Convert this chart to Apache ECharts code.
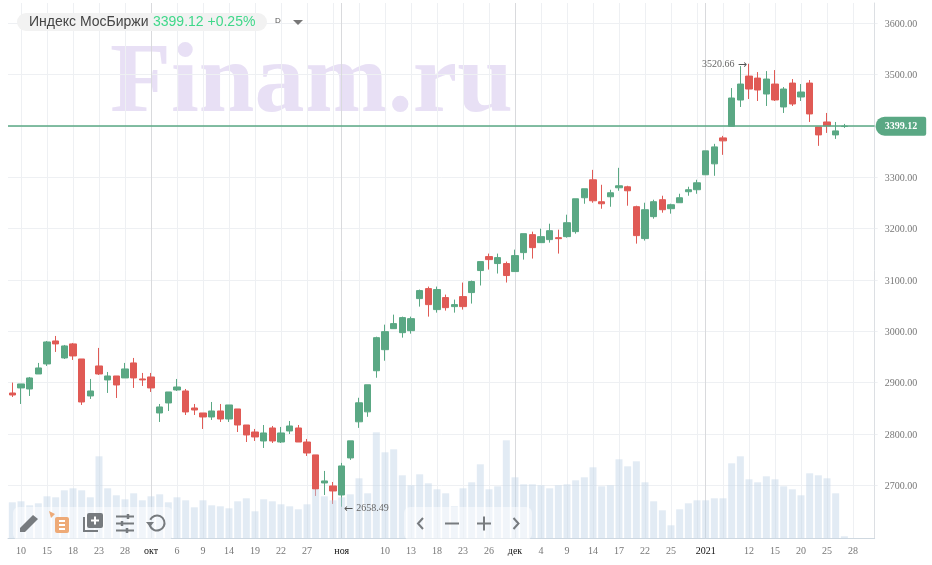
<!DOCTYPE html>
<html><head><meta charset="utf-8">
<style>html,body{margin:0;padding:0;background:#fff}#c{width:932px;height:565px}</style>
<script src="https://cdn.jsdelivr.net/npm/echarts@6/dist/echarts.min.js"></script>
</head><body><div id="c"></div>
<script>
const categories = ['2020-09-09','2020-09-10','2020-09-11','2020-09-14','2020-09-15','2020-09-16','2020-09-17','2020-09-18','2020-09-21','2020-09-22','2020-09-23','2020-09-24','2020-09-25','2020-09-28','2020-09-29','2020-09-30','2020-10-01','2020-10-02','2020-10-05','2020-10-06','2020-10-07','2020-10-08','2020-10-09','2020-10-12','2020-10-13','2020-10-14','2020-10-15','2020-10-16','2020-10-19','2020-10-20','2020-10-21','2020-10-22','2020-10-23','2020-10-26','2020-10-27','2020-10-28','2020-10-29','2020-10-30','2020-11-02','2020-11-03','2020-11-05','2020-11-06','2020-11-09','2020-11-10','2020-11-11','2020-11-12','2020-11-13','2020-11-16','2020-11-17','2020-11-18','2020-11-19','2020-11-20','2020-11-23','2020-11-24','2020-11-25','2020-11-26','2020-11-27','2020-11-30','2020-12-01','2020-12-02','2020-12-03','2020-12-04','2020-12-07','2020-12-08','2020-12-09','2020-12-10','2020-12-11','2020-12-14','2020-12-15','2020-12-16','2020-12-17','2020-12-18','2020-12-21','2020-12-22','2020-12-23','2020-12-24','2020-12-25','2020-12-28','2020-12-29','2020-12-30','2021-01-04','2021-01-05','2021-01-06','2021-01-08','2021-01-11','2021-01-12','2021-01-13','2021-01-14','2021-01-15','2021-01-18','2021-01-19','2021-01-20','2021-01-21','2021-01-22','2021-01-25','2021-01-26','2021-01-27','2021-01-28','2021-01-29','2021-02-01'];
const opens = [2879.9,2889.7,2887.7,2916.9,2936.4,2981.2,2948.1,2975.4,2946.1,2874.1,2932.5,2905.3,2913.0,2909.2,2938.4,2907.2,2911.1,2841.0,2860.5,2885.8,2883.8,2850.7,2841.0,2833.2,2844.9,2829.3,2848.8,2817.6,2804.0,2786.5,2811.8,2784.5,2806.0,2811.8,2784.5,2759.4,2704.8,2699.0,2681.4,2753.5,2823.8,2843.2,2923.2,2964.2,3005.1,2997.3,3001.2,3063.6,3083.1,3042.2,3065.6,3048.0,3067.5,3075.3,3118.2,3145.4,3131.8,3131.8,3116.2,3153.1,3188.1,3172.5,3178.4,3182.2,3184.2,3193.9,3259.9,3294.8,3252.1,3261.8,3279.3,3281.2,3242.5,3180.4,3223.1,3256.1,3238.6,3250.2,3271.6,3275.5,3304.6,3325.9,3376.4,3399.0,3450.1,3496.7,3492.8,3461.8,3481.2,3436.6,3483.1,3456.0,3483.1,3397.7,3407.4,3382.2,3398.5];
const closes = [2876.0,2897.5,2909.2,2928.6,2979.2,2975.4,2971.5,2952.0,2862.4,2883.8,2916.9,2913.0,2895.5,2926.7,2909.2,2905.3,2889.7,2852.7,2881.9,2891.6,2843.0,2846.8,2833.2,2844.9,2829.3,2856.6,2817.6,2798.2,2794.3,2802.1,2786.5,2802.1,2815.7,2784.5,2763.1,2693.1,2708.7,2689.2,2737.9,2786.7,2860.8,2895.9,2987.6,2999.3,3014.9,3026.6,3024.6,3079.2,3051.9,3081.2,3046.0,3051.9,3048.0,3096.8,3135.6,3139.5,3143.4,3108.5,3147.3,3190.0,3162.8,3184.2,3195.8,3180.3,3211.3,3257.9,3277.4,3254.0,3248.2,3269.6,3283.2,3273.5,3186.2,3236.6,3252.2,3236.6,3246.3,3259.9,3275.5,3289.0,3351.2,3358.9,3370.6,3454.0,3481.2,3471.5,3469.6,3490.9,3450.2,3471.5,3442.4,3465.7,3423.0,3382.2,3399.7,3390.0,3399.12];
const lows = [2872.1,2858.5,2874.1,2916.9,2932.5,2959.8,2946.1,2944.2,2856.6,2868.3,2915.0,2880.0,2870.2,2909.2,2889.7,2893.6,2881.9,2823.5,2844.9,2883.8,2837.1,2837.1,2809.9,2827.4,2823.5,2823.5,2804.0,2784.5,2786.5,2772.9,2782.6,2782.6,2800.1,2784.5,2757.3,2679.5,2681.4,2663.9,2658.49,2749.7,2812.0,2833.5,2909.6,2942.7,3005.1,2987.6,2995.4,3048.0,3028.5,3036.3,3040.2,3036.3,3042.2,3053.9,3089.1,3120.1,3112.4,3094.9,3116.2,3139.5,3141.5,3172.5,3172.5,3151.2,3182.2,3190.0,3248.2,3250.2,3238.5,3242.4,3273.5,3244.4,3170.6,3176.5,3219.2,3230.8,3228.9,3250.2,3263.8,3267.7,3304.6,3302.6,3343.4,3399.0,3436.6,3452.1,3448.2,3438.5,3448.2,3424.9,3438.5,3448.2,3407.4,3360.9,3386.1,3374.4,3395.8];
const highs = [2900.1,2897.5,2911.1,2938.4,2981.2,2990.9,2973.4,2977.3,2946.1,2907.2,2967.6,2920.8,2913.0,2938.4,2948.1,2918.9,2918.9,2858.5,2881.9,2907.2,2887.7,2858.5,2841.0,2862.4,2858.5,2856.6,2848.8,2817.6,2809.9,2817.6,2815.7,2813.8,2825.4,2817.6,2790.4,2759.4,2728.2,2706.7,2743.8,2786.7,2870.6,2895.9,2989.5,3012.9,3032.4,3028.5,3028.5,3081.2,3087.0,3087.0,3071.4,3061.7,3094.8,3098.7,3135.6,3151.2,3151.2,3135.6,3158.9,3190.0,3193.9,3199.7,3209.4,3197.8,3226.9,3257.9,3277.4,3314.2,3285.1,3275.4,3318.1,3283.2,3244.4,3250.2,3256.1,3263.8,3248.3,3267.7,3281.3,3294.9,3351.2,3364.8,3380.3,3473.4,3516.1,3520.66,3504.5,3506.4,3508.4,3475.4,3490.9,3481.2,3489.0,3397.7,3424.9,3407.4,3403.6];
const volumes = [36,37,33,35,42,41,48,50,48,41,82,50,43,39,45,38,42,44,36,41,38,31,38,33,32,30,37,40,27,39,37,34,32,29,34,49,42,38,41,44,60,45,106,86,89,63,53,64,55,49,45,32,50,56,74,49,52,98,61,54,54,53,50,53,54,58,61,71,52,53,79,72,77,56,37,28,13,29,35,38,38,40,40,75,82,59,56,62,59,52,49,43,65,63,60,45,2];
const tickLabels = {'2020-09-10':'10','2020-09-15':'15','2020-09-18':'18','2020-09-23':'23','2020-09-28':'28','2020-10-01':'окт','2020-10-06':'6','2020-10-09':'9','2020-10-14':'14','2020-10-19':'19','2020-10-22':'22','2020-10-27':'27','2020-11-02':'ноя','2020-11-10':'10','2020-11-13':'13','2020-11-18':'18','2020-11-23':'23','2020-11-26':'26','2020-12-01':'дек','2020-12-04':'4','2020-12-09':'9','2020-12-14':'14','2020-12-17':'17','2020-12-22':'22','2020-12-25':'25','2021-01-04':'2021','2021-01-12':'12','2021-01-15':'15','2021-01-20':'20','2021-01-25':'25','2021-01-28':'28'};
const monthStarts = ['2020-10-01','2020-11-02','2020-12-01','2021-01-04'];
const lastPrice = 3399.12;
const maxPoint = {date:'2021-01-12', price:3520.66};
const minPoint = {date:'2020-11-02', price:2658.49};

const GREEN='#5aa884', RED='#e05a55', GRID='#eef0f3', SERIF='"Liberation Serif",serif', SANS='"Liberation Sans",Arial,sans-serif', ICON='#777b7f';
const L=8, W=866.67;
const candles = opens.map((o,i)=>[o,closes[i],lows[i],highs[i]]);

function line(x1,y1,x2,y2,w,c){return {type:'line',z:50,shape:{x1,y1,x2,y2},style:{stroke:c||ICON,lineWidth:w}};}
const graphics = [
 {type:'text',z:-5,left:110,top:35,style:{text:'Finam.ru',font:'bold 100px '+SERIF,fill:'#e8e0f5'}},
 {type:'rect',z:40,shape:{x:17,y:13,width:250,height:18,r:9},style:{fill:'#f2f2f2'}},
 {type:'text',z:41,left:29,top:15,style:{text:'Индекс МосБиржи',font:'14px '+SANS,fill:'#444'}},
 {type:'text',z:41,left:153,top:15,style:{text:'3399.12 +0.25%',font:'14px '+SANS,fill:'#3fd88a'}},
 {type:'text',z:41,left:275,top:17,style:{text:'D',font:'8px '+SANS,fill:'#555'}},
 {type:'polygon',z:41,shape:{points:[[293,20],[303,20],[298,25]]},style:{fill:'#777'}},
 {type:'rect',z:45,shape:{x:13,y:507,width:160,height:33,r:6},style:{fill:'rgba(255,255,255,0.5)'}},
 {type:'rect',z:45,shape:{x:404,y:507,width:128,height:33,r:6},style:{fill:'rgba(255,255,255,0.5)'}},
 {type:'polygon',z:50,shape:{points:[[20,528],[33,515],[38,519],[25,532],[20,532]]},style:{fill:ICON}},
 {type:'polygon',z:50,shape:{points:[[49,511],[55,514],[51,518]]},style:{fill:'#eeaa77'}},
 {type:'rect',z:50,shape:{x:55,y:517,width:14,height:16,r:2},style:{fill:'#eeaa77'}},
 line(59,521,65,521,2,'#fff'),line(59,525,65,525,2,'#fff'),line(59,529,65,529,2,'#fff'),
 {type:'rect',z:50,shape:{x:87,y:513,width:16,height:15,r:2},style:{fill:ICON}},
 {type:'polyline',z:50,shape:{points:[[84,517],[84,531],[98,531]]},style:{stroke:ICON,lineWidth:2,fill:'none'}},
 line(91,520.5,99,520.5,2,'#fff'),line(95,516.5,95,524.5,2,'#fff'),
 line(116,516.5,134,516.5,2),line(116,523.5,134,523.5,2),line(116,530.5,134,530.5,2),
 line(128,514,128,519,2.5),line(122,521,122,526,2.5),line(127,528,127,533,2.5),
 {type:'arc',z:50,shape:{cx:157,cy:523,r:7.5,startAngle:-2.7,endAngle:2.9,clockwise:true},style:{stroke:ICON,lineWidth:2,fill:'none'}},
 {type:'polygon',z:50,shape:{points:[[146,522],[154,522],[150,527]]},style:{fill:ICON}},
 {type:'polyline',z:50,shape:{points:[[423,518],[418,523.5],[423,529]]},style:{stroke:ICON,lineWidth:2,fill:'none'}},
 line(445,523.5,459,523.5,2),line(477,523.5,491,523.5,2),line(484,516.5,484,530.5,2),
 {type:'polyline',z:50,shape:{points:[[513.5,518],[518.5,523.5],[513.5,529]]},style:{stroke:ICON,lineWidth:2,fill:'none'}}
];
const annoRich = {a:{fontFamily:'"DejaVu Sans",sans-serif',fontSize:11,color:'#555'},t:{fontFamily:SERIF,fontSize:10,color:'#666'}};

const chart = echarts.init(document.getElementById('c'),null,{renderer:'canvas'});
chart.setOption({
 animation:false,
 grid:[
  {left:L,width:W,top:23,height:513.8},
  {left:L,width:W,top:3,height:535.3}
 ],
 xAxis:[
  {type:'category',gridIndex:0,data:categories,show:false},
  {type:'category',gridIndex:1,data:categories,
   axisLine:{lineStyle:{color:'#cfd8e0'}},axisTick:{show:false},
   splitLine:{show:true,alignWithLabel:true,interval:(i)=>(i-1)%3===0,lineStyle:{color:GRID}},
   axisLabel:{interval:(i,v)=>v in tickLabels,hideOverlap:false,margin:8,
     fontFamily:SERIF,fontSize:10,color:'#777',
     formatter:(v)=>{const t=tickLabels[v]||'';return monthStarts.includes(v)?'{m|'+t+'}':t;},
     rich:{m:{fontFamily:SERIF,fontSize:10,color:'#111'}}}}
 ],
 yAxis:[
  {type:'value',gridIndex:0,position:'right',min:2600,max:3600,interval:100,
   axisLine:{show:false},axisTick:{show:true,length:3,lineStyle:{color:GRID}},
   splitLine:{show:true,showMinLine:false,lineStyle:{color:GRID}},
   axisLabel:{showMinLabel:false,margin:10,fontFamily:SERIF,fontSize:10,color:'#777',
     formatter:(v)=>'{v|'+v.toFixed(2)+'}',rich:{v:{fontFamily:SERIF,fontSize:10,color:'#777',padding:[2,0,0,0]}}}},
  {type:'value',gridIndex:1,position:'right',min:0,max:535.3,
   axisLine:{show:true,lineStyle:{color:'#dcdfe3'}},axisTick:{show:false},axisLabel:{show:false},splitLine:{show:false}}
 ],
 graphic:graphics,
 series:[
  {type:'line',name:'monthLines',xAxisIndex:1,yAxisIndex:1,data:[],z:1,showSymbol:false,
   markLine:{silent:true,symbol:'none',animation:false,z:1,label:{show:false},
    lineStyle:{color:'#d9dadd',width:1,type:'solid'},
    data:monthStarts.map(d=>({xAxis:d}))}},
  {type:'candlestick',xAxisIndex:0,yAxisIndex:0,data:candles,barWidth:7,z:3,
   itemStyle:{color:GREEN,color0:RED,borderColor:GREEN,borderColor0:RED,borderWidth:1},
   markLine:{silent:true,symbol:'none',animation:false,
    lineStyle:{color:GREEN,width:1.5,type:'solid'},
    label:{position:'end',distance:1,formatter:lastPrice.toFixed(2),fontFamily:SERIF,fontSize:10,fontWeight:'bold',color:'#fff',
      backgroundColor:GREEN,padding:[5,9,4,9],borderRadius:[9,2,2,9]},
    data:[{yAxis:lastPrice}]},
   markPoint:{silent:true,symbol:'circle',symbolSize:0,animation:false,
    data:[
     {coord:[minPoint.date,minPoint.price],label:{show:true,position:'right',distance:2,offset:[0,2],formatter:'{a|←} {t|'+minPoint.price.toFixed(2)+'}',rich:annoRich}},
     {coord:[maxPoint.date,maxPoint.price],label:{show:true,position:'left',distance:2,offset:[0,1],formatter:'{t|'+maxPoint.price.toFixed(2)+'} {a|→}',rich:annoRich}}
    ]}},
  {type:'bar',xAxisIndex:1,yAxisIndex:1,data:volumes,barWidth:7,z:4,
   itemStyle:{color:'rgba(190,210,230,0.45)'}}
 ]
});
</script></body></html>
